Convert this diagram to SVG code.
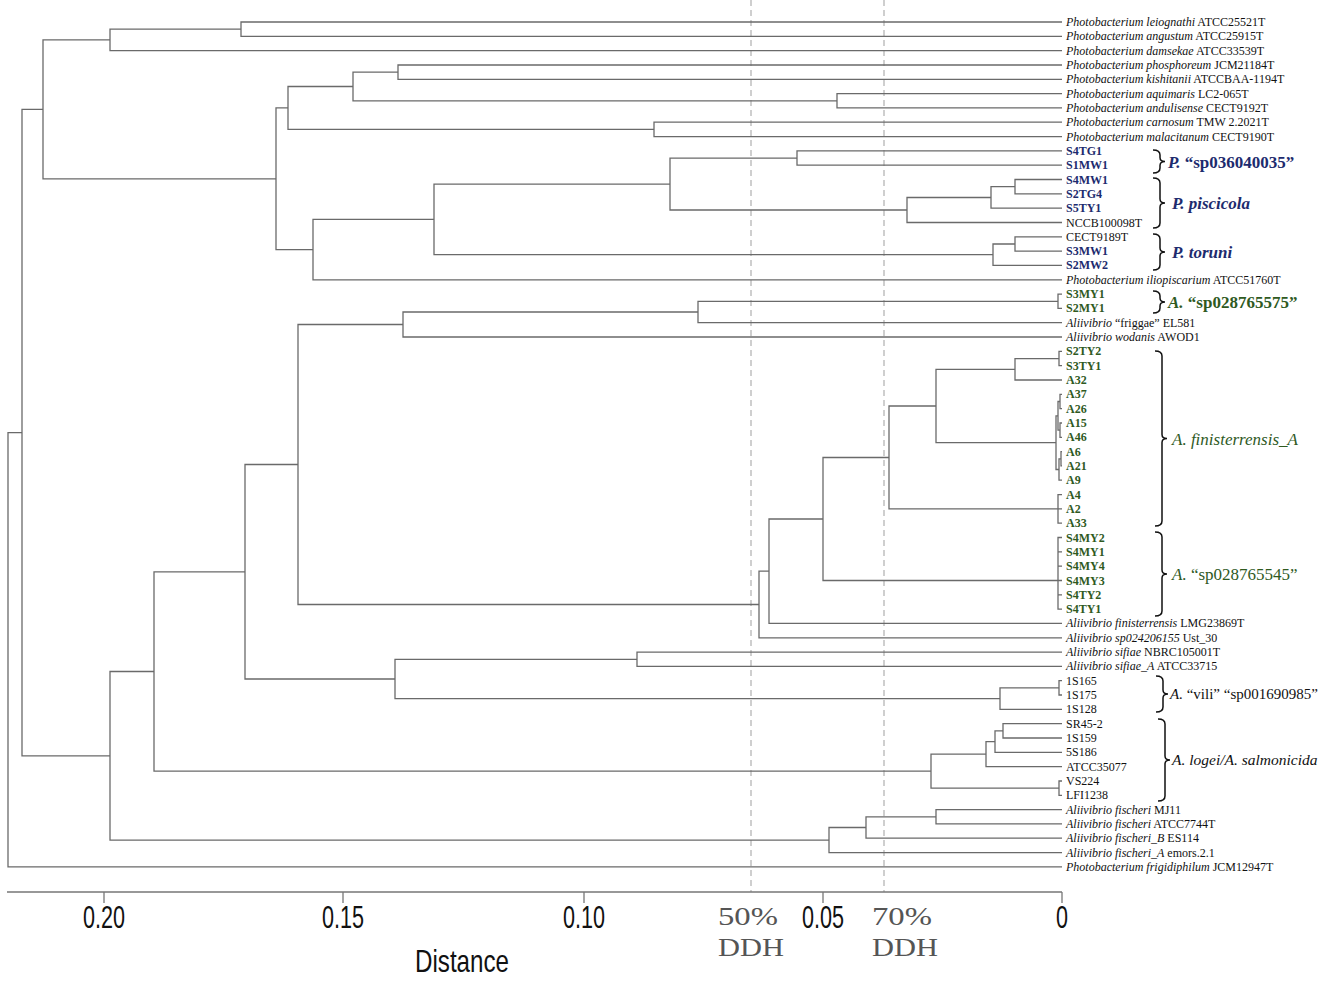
<svg xmlns="http://www.w3.org/2000/svg" width="1325" height="987" viewBox="0 0 1325 987">
<style>
.t{fill:none;stroke:#6a6a6a;stroke-width:1.3}
.dash{stroke:#b0b0b0;stroke-width:1.2;stroke-dasharray:6,4}
.br{fill:none;stroke:#111;stroke-width:1.5}
.lb{font-family:"Liberation Serif","DejaVu Serif",serif;font-size:12px;fill:#111}
.it{font-style:italic}
.bl{fill:#1d2b6e;font-weight:bold}
.gr{fill:#2f5a1f;font-weight:bold}
.cl{font-family:"Liberation Serif","DejaVu Serif",serif}
.ax{font-family:"Liberation Sans",Arial,sans-serif;font-size:32px;fill:#111}
.dd{font-family:"Liberation Serif","DejaVu Serif",serif;font-size:26px;fill:#555}
</style>
<rect width="1325" height="987" fill="#fff"/>
<g id="ddh-lines">
<line class="dash" x1="751" y1="0" x2="751" y2="892"/>
<line class="dash" x1="884" y1="0" x2="884" y2="892"/>
</g>
<g id="connectors" class="t">
<path d="M1062 22 H241 V36.3 H1062"/>
<path d="M241 29.2 H110 V50.6 H1062"/>
<path d="M1062 65 H398 V79.3 H1062"/>
<path d="M1062 93.6 H837 V107.9 H1062"/>
<path d="M398 72.2 H353 V100.8 H837"/>
<path d="M1062 122.2 H654 V136.6 H1062"/>
<path d="M353 86.5 H288 V129.4 H654"/>
<path d="M1062 150.9 H797 V165.2 H1062"/>
<path d="M1062 179.5 H1015 V193.8 H1062"/>
<path d="M1015 186.7 H991 V208.2 H1062"/>
<path d="M991 197.5 H907 V222.5 H1062"/>
<path d="M797 158.1 H670 V210 H907"/>
<path d="M1062 236.8 H1015 V251.1 H1062"/>
<path d="M1015 244 H993 V265.4 H1062"/>
<path d="M670 184.1 H434 V254.7 H993"/>
<path d="M434 219.4 H313 V279.8 H1062"/>
<path d="M288 107.9 H276 V249.6 H313"/>
<path d="M110 39.9 H43 V178.8 H276"/>
<path d="M1062 294.1 H1058 V308.4 H1062"/>
<path d="M1058 301.3 H698 V322.7 H1062"/>
<path d="M698 312 H403 V337 H1062"/>
<path d="M1062 351.4 H1059 V365.7 H1062"/>
<path d="M1059 358.6 H1015 V380 H1062"/>
<path d="M1062 394.3 H1060 V408.6 H1062"/>
<path d="M1062 423 H1060 V437.3 H1062"/>
<path d="M1060 401.5 H1058 V430.2 H1060"/>
<path d="M1062 451.6 H1061 V465.9 H1062"/>
<path d="M1061 458.8 H1059 V480.2 H1062"/>
<path d="M1058 415.8 H1056 V469.5 H1059"/>
<path d="M1015 369.3 H936 V442.7 H1056"/>
<path d="M1062 494.6 H1058 V523.2 H1062 M1058 508.9 H1062"/>
<path d="M936 406 H889 V508.9 H1058"/>
<path d="M1062 537.5 H1058 V609.1 H1062 M1058 551.8 H1062 M1058 566.2 H1062 M1058 580.5 H1062 M1058 594.8 H1062"/>
<path d="M889 457.5 H823 V580.5 H1058"/>
<path d="M823 519 H769 V623.4 H1062"/>
<path d="M769 571.2 H759 V637.8 H1062"/>
<path d="M403 324.5 H298 V604.5 H759"/>
<path d="M1062 652.1 H637 V666.4 H1062"/>
<path d="M1062 680.7 H1059 V695 H1062"/>
<path d="M1059 687.9 H1000 V709.4 H1062"/>
<path d="M637 659.3 H395 V698.6 H1000"/>
<path d="M298 464.5 H245 V679 H395"/>
<path d="M1062 723.7 H1003 V738 H1062"/>
<path d="M1003 730.9 H995 V752.3 H1062"/>
<path d="M995 741.6 H986 V766.6 H1062"/>
<path d="M1062 781 H1059 V795.3 H1062"/>
<path d="M986 754.1 H931 V788.2 H1059"/>
<path d="M245 571.8 H154 V771.2 H931"/>
<path d="M1062 809.6 H936 V823.9 H1062"/>
<path d="M936 816.8 H866 V838.2 H1062"/>
<path d="M866 827.5 H829 V852.6 H1062"/>
<path d="M154 671.5 H110 V840.1 H829"/>
<path d="M43 109.4 H22 V755.8 H110"/>
<path d="M22 432.6 H8 V866.9 H1062"/>
</g>
<g id="leaves" class="lb">
<g id="L1"><text x="1066" y="26"><tspan class="it">Photobacterium leiognathi</tspan> ATCC25521T</text></g>
<g id="L2"><text x="1066" y="40.3"><tspan class="it">Photobacterium angustum</tspan> ATCC25915T</text></g>
<g id="L3"><text x="1066" y="54.6"><tspan class="it">Photobacterium damsekae</tspan> ATCC33539T</text></g>
<g id="L4"><text x="1066" y="69"><tspan class="it">Photobacterium phosphoreum</tspan> JCM21184T</text></g>
<g id="L5"><text x="1066" y="83.3"><tspan class="it">Photobacterium kishitanii</tspan> ATCCBAA-1194T</text></g>
<g id="L6"><text x="1066" y="97.6"><tspan class="it">Photobacterium aquimaris</tspan> LC2-065T</text></g>
<g id="L7"><text x="1066" y="111.9"><tspan class="it">Photobacterium andulisense</tspan> CECT9192T</text></g>
<g id="L8"><text x="1066" y="126.2"><tspan class="it">Photobacterium carnosum</tspan> TMW 2.2021T</text></g>
<g id="L9"><text x="1066" y="140.6"><tspan class="it">Photobacterium malacitanum</tspan> CECT9190T</text></g>
<g id="L10"><text class="bl" x="1066" y="154.9">S4TG1</text></g>
<g id="L11"><text class="bl" x="1066" y="169.2">S1MW1</text></g>
<g id="L12"><text class="bl" x="1066" y="183.5">S4MW1</text></g>
<g id="L13"><text class="bl" x="1066" y="197.8">S2TG4</text></g>
<g id="L14"><text class="bl" x="1066" y="212.2">S5TY1</text></g>
<g id="L15"><text x="1066" y="226.5">NCCB100098T</text></g>
<g id="L16"><text x="1066" y="240.8">CECT9189T</text></g>
<g id="L17"><text class="bl" x="1066" y="255.1">S3MW1</text></g>
<g id="L18"><text class="bl" x="1066" y="269.4">S2MW2</text></g>
<g id="L19"><text x="1066" y="283.8"><tspan class="it">Photobacterium iliopiscarium</tspan> ATCC51760T</text></g>
<g id="L20"><text class="gr" x="1066" y="298.1">S3MY1</text></g>
<g id="L21"><text class="gr" x="1066" y="312.4">S2MY1</text></g>
<g id="L22"><text x="1066" y="326.7"><tspan class="it">Aliivibrio</tspan> “friggae” EL581</text></g>
<g id="L23"><text x="1066" y="341"><tspan class="it">Aliivibrio wodanis</tspan> AWOD1</text></g>
<g id="L24"><text class="gr" x="1066" y="355.4">S2TY2</text></g>
<g id="L25"><text class="gr" x="1066" y="369.7">S3TY1</text></g>
<g id="L26"><text class="gr" x="1066" y="384">A32</text></g>
<g id="L27"><text class="gr" x="1066" y="398.3">A37</text></g>
<g id="L28"><text class="gr" x="1066" y="412.6">A26</text></g>
<g id="L29"><text class="gr" x="1066" y="427">A15</text></g>
<g id="L30"><text class="gr" x="1066" y="441.3">A46</text></g>
<g id="L31"><text class="gr" x="1066" y="455.6">A6</text></g>
<g id="L32"><text class="gr" x="1066" y="469.9">A21</text></g>
<g id="L33"><text class="gr" x="1066" y="484.2">A9</text></g>
<g id="L34"><text class="gr" x="1066" y="498.6">A4</text></g>
<g id="L35"><text class="gr" x="1066" y="512.9">A2</text></g>
<g id="L36"><text class="gr" x="1066" y="527.2">A33</text></g>
<g id="L37"><text class="gr" x="1066" y="541.5">S4MY2</text></g>
<g id="L38"><text class="gr" x="1066" y="555.8">S4MY1</text></g>
<g id="L39"><text class="gr" x="1066" y="570.2">S4MY4</text></g>
<g id="L40"><text class="gr" x="1066" y="584.5">S4MY3</text></g>
<g id="L41"><text class="gr" x="1066" y="598.8">S4TY2</text></g>
<g id="L42"><text class="gr" x="1066" y="613.1">S4TY1</text></g>
<g id="L43"><text x="1066" y="627.4"><tspan class="it">Aliivibrio finisterrensis</tspan> LMG23869T</text></g>
<g id="L44"><text x="1066" y="641.8"><tspan class="it">Aliivibrio sp024206155</tspan> Ust_30</text></g>
<g id="L45"><text x="1066" y="656.1"><tspan class="it">Aliivibrio sifiae</tspan> NBRC105001T</text></g>
<g id="L46"><text x="1066" y="670.4"><tspan class="it">Aliivibrio sifiae_A</tspan> ATCC33715</text></g>
<g id="L47"><text x="1066" y="684.7">1S165</text></g>
<g id="L48"><text x="1066" y="699">1S175</text></g>
<g id="L49"><text x="1066" y="713.4">1S128</text></g>
<g id="L50"><text x="1066" y="727.7">SR45-2</text></g>
<g id="L51"><text x="1066" y="742">1S159</text></g>
<g id="L52"><text x="1066" y="756.3">5S186</text></g>
<g id="L53"><text x="1066" y="770.6">ATCC35077</text></g>
<g id="L54"><text x="1066" y="785">VS224</text></g>
<g id="L55"><text x="1066" y="799.3">LFI1238</text></g>
<g id="L56"><text x="1066" y="813.6"><tspan class="it">Aliivibrio fischeri</tspan> MJ11</text></g>
<g id="L57"><text x="1066" y="827.9"><tspan class="it">Aliivibrio fischeri</tspan> ATCC7744T</text></g>
<g id="L58"><text x="1066" y="842.2"><tspan class="it">Aliivibrio fischeri_B</tspan> ES114</text></g>
<g id="L59"><text x="1066" y="856.6"><tspan class="it">Aliivibrio fischeri_A</tspan> emors.2.1</text></g>
<g id="L60"><text x="1066" y="870.9"><tspan class="it">Photobacterium frigidiphilum</tspan> JCM12947T</text></g>
</g>
<g id="clades">
<g id="c-sp036040035">
<path class="br" d="M1153 150 Q1160 150 1160 155 V157.5 Q1160 161.5 1165 161.5 Q1160 161.5 1160 165.5 V168 Q1160 173 1153 173"/>
<text class="cl" x="1168" y="168" font-size="17" font-weight="bold" fill="#1d2b6e"><tspan font-style="italic">P.</tspan> “sp036040035”</text>
</g>
<g id="c-piscicola">
<path class="br" d="M1153 178 Q1160 178 1160 183 V199 Q1160 203 1165 203 Q1160 203 1160 207 V223 Q1160 228 1153 228"/>
<text class="cl" x="1172" y="209" font-size="17" font-weight="bold" font-style="italic" fill="#1d2b6e">P. piscicola</text>
</g>
<g id="c-toruni">
<path class="br" d="M1153 234 Q1160 234 1160 239 V248 Q1160 252 1165 252 Q1160 252 1160 256 V265 Q1160 270 1153 270"/>
<text class="cl" x="1172" y="258" font-size="17" font-weight="bold" font-style="italic" fill="#1d2b6e">P. toruni</text>
</g>
<g id="c-sp028765575">
<path class="br" d="M1153 291 Q1160 291 1160 296 V298 Q1160 302 1165 302 Q1160 302 1160 306 V308 Q1160 313 1153 313"/>
<text class="cl" x="1168" y="308" font-size="17" font-weight="bold" fill="#2f5a1f"><tspan font-style="italic">A.</tspan> “sp028765575”</text>
</g>
<g id="c-finisterrensis">
<path class="br" d="M1155 351 Q1162 351 1162 356 V434.5 Q1162 438.5 1167 438.5 Q1162 438.5 1162 442.5 V521 Q1162 526 1155 526"/>
<text class="cl" x="1172" y="445" font-size="17" font-style="italic" fill="#2f5a1f">A. finisterrensis_A</text>
</g>
<g id="c-sp028765545">
<path class="br" d="M1155 532 Q1162 532 1162 537 V570 Q1162 574 1167 574 Q1162 574 1162 578 V611 Q1162 616 1155 616"/>
<text class="cl" x="1172" y="580" font-size="17" fill="#2f5a1f"><tspan font-style="italic">A.</tspan> “sp028765545”</text>
</g>
<g id="c-vili">
<path class="br" d="M1156 676 Q1163 676 1163 681 V690 Q1163 694 1168 694 Q1163 694 1163 698 V707 Q1163 712 1156 712"/>
<text class="cl" x="1170" y="699" font-size="15" fill="#111"><tspan font-style="italic">A.</tspan> “vili” “sp001690985”</text>
</g>
<g id="c-logei">
<path class="br" d="M1158 719 Q1165 719 1165 724 V756 Q1165 760 1170 760 Q1165 760 1165 764 V796 Q1165 801 1158 801"/>
<text class="cl" x="1172" y="765" font-size="15.5" font-style="italic" fill="#111">A. logei/A. salmonicida</text>
</g>
</g>
<g id="axis">
<path d="M7 892 H1062 M104 892 V903 M343 892 V903 M584 892 V903 M823 892 V903 M1062 892 V903" fill="none" stroke="#777" stroke-width="1.3"/>
<text class="ax" x="104" y="928" text-anchor="middle" textLength="42" lengthAdjust="spacingAndGlyphs">0.20</text>
<text class="ax" x="343" y="928" text-anchor="middle" textLength="42" lengthAdjust="spacingAndGlyphs">0.15</text>
<text class="ax" x="584" y="928" text-anchor="middle" textLength="42" lengthAdjust="spacingAndGlyphs">0.10</text>
<text class="ax" x="823" y="928" text-anchor="middle" textLength="42" lengthAdjust="spacingAndGlyphs">0.05</text>
<text class="ax" x="1062" y="928" text-anchor="middle" textLength="12" lengthAdjust="spacingAndGlyphs">0</text>
<text class="ax" x="462" y="972" text-anchor="middle" textLength="94" lengthAdjust="spacingAndGlyphs">Distance</text>
<text class="dd" x="718" y="925" textLength="60" lengthAdjust="spacingAndGlyphs">50%</text>
<text class="dd" x="718" y="956" textLength="66" lengthAdjust="spacingAndGlyphs">DDH</text>
<text class="dd" x="872" y="925" textLength="60" lengthAdjust="spacingAndGlyphs">70%</text>
<text class="dd" x="872" y="956" textLength="66" lengthAdjust="spacingAndGlyphs">DDH</text>
</g>
</svg>
